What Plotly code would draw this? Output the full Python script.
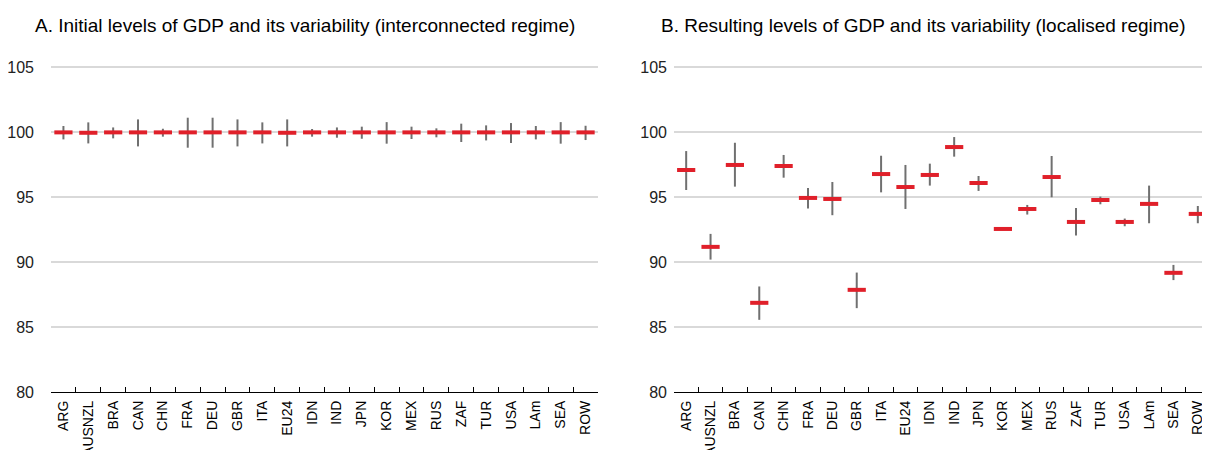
import plotly.graph_objects as go

categories = ["ARG", "AUSNZL", "BRA", "CAN", "CHN", "FRA", "DEU", "GBR", "ITA", "EU24",
              "IDN", "IND", "JPN", "KOR", "MEX", "RUS", "ZAF", "TUR", "USA", "LAm", "SEA", "ROW"]

# Panel A: interconnected regime (level, upper bound, lower bound)
a_level = [100.0, 99.97, 100.0, 100.0, 100.0, 100.0, 100.0, 100.0, 100.0, 99.97,
           100.0, 100.0, 100.0, 100.0, 100.0, 100.0, 100.0, 100.0, 100.0, 100.0, 100.0, 100.0]
a_high = [100.49, 100.77, 100.38, 101.0, 100.28, 101.13, 101.13, 101.0, 100.77, 101.0,
          100.26, 100.38, 100.44, 100.79, 100.44, 100.31, 100.67, 100.54, 100.72, 100.49, 100.79, 100.51]
a_low = [99.46, 99.15, 99.54, 98.92, 99.67, 98.82, 98.82, 98.92, 99.15, 98.92,
         99.67, 99.59, 99.51, 99.13, 99.49, 99.62, 99.26, 99.38, 99.18, 99.46, 99.13, 99.41]

# Panel B: localised regime
b_level = [97.1, 91.18, 97.49, 86.87, 97.41, 94.95, 94.87, 87.87, 96.79, 95.79,
           96.72, 98.87, 96.1, 92.56, 94.1, 96.56, 93.1, 94.79, 93.1, 94.49, 89.18, 93.72]
b_high = [98.56, 92.18, 99.2, 88.13, 98.26, 95.72, 96.18, 89.2, 98.2, 97.49,
          97.59, 99.64, 96.64, 92.6, 94.41, 98.18, 94.18, 95.05, 93.36, 95.9, 89.79, 94.33]
b_low = [95.56, 90.2, 95.82, 85.56, 96.51, 94.13, 93.62, 86.46, 95.38, 94.1,
         95.9, 98.13, 95.49, 92.52, 93.67, 95.0, 92.05, 94.46, 92.77, 93.0, 88.62, 93.0]

titles = ["A. Initial levels of GDP and its variability (interconnected regime)",
          "B. Resulting levels of GDP and its variability (localised regime)"]
y_ticks = [80, 85, 90, 95, 100, 105]

RED = "#e0202a"
GREY = "#707070"
FONT = "Liberation Sans, Arial, sans-serif"
NARROW = "Liberation Sans Narrow, Arial Narrow, Liberation Sans, sans-serif"

fig = go.Figure()

panels = [(a_level, a_high, a_low, "x", "y"), (b_level, b_high, b_low, "x2", "y2")]
for lvl, hi, lo, xa, ya in panels:
    fig.add_trace(go.Scatter(
        x=categories, y=lvl, mode="markers", xaxis=xa, yaxis=ya,
        marker=dict(symbol="line-ew", size=13, color=RED, line=dict(color=RED, width=4)),
        error_y=dict(type="data", symmetric=False,
                     array=[h - l for h, l in zip(hi, lvl)],
                     arrayminus=[l - w for l, w in zip(lvl, lo)],
                     color=GREY, thickness=2, width=0),
        showlegend=False, hoverinfo="skip"))

xcommon = dict(type="category", range=[-0.5, len(categories) - 0.5],
               tickson="boundaries", ticks="inside", ticklen=5,
               tickcolor="#000", showline=True, linecolor="#000", linewidth=1.2,
               tickangle=-90, tickfont=dict(family=FONT, size=14, color="#000"),
               ticklabelstandoff=2,
               showgrid=False, zeroline=False, fixedrange=True, automargin=False)
ycommon = dict(range=[80, 106.5], tickvals=y_ticks, showgrid=True, gridcolor="#d9d9d9",
               gridwidth=1.5, zeroline=False, showline=False, ticks="",
               tickfont=dict(family=NARROW, size=16, color="#222"), automargin=False)

# page offset of the figure inside the html body (default 8px body margin)
OFF = 8
W, H = 1210, 450
L, R, T, B = 51 - OFF, OFF, 47.5 - OFF, 450 - (392 - OFF)
pw = W - L - R

fig.update_layout(
    width=W, height=H,
    margin=dict(l=L, r=R, t=T, b=B),
    plot_bgcolor="white", paper_bgcolor="white",
    xaxis=dict(domain=[0, (598 - OFF - L) / pw], anchor="y", **xcommon),
    xaxis2=dict(domain=[(674 - OFF - L) / pw, 1], anchor="y2", **xcommon),
    yaxis=dict(anchor="x", ticklabelstandoff=16, **ycommon),
    yaxis2=dict(anchor="x2", ticklabelstandoff=6, **ycommon),
    font=dict(family=FONT),
    annotations=[
        dict(text=titles[0], xref="paper", yref="paper", x=(305 - OFF - L) / pw, y=1,
             yshift=22.5, xanchor="center", yanchor="middle", showarrow=False,
             font=dict(family=FONT, size=19, color="#000")),
        dict(text=titles[1], xref="paper", yref="paper", x=(923 - OFF - L) / pw, y=1,
             yshift=22.5, xanchor="center", yanchor="middle", showarrow=False,
             font=dict(family=FONT, size=19, color="#000")),
    ],
)

fig.write_html("out.html")
